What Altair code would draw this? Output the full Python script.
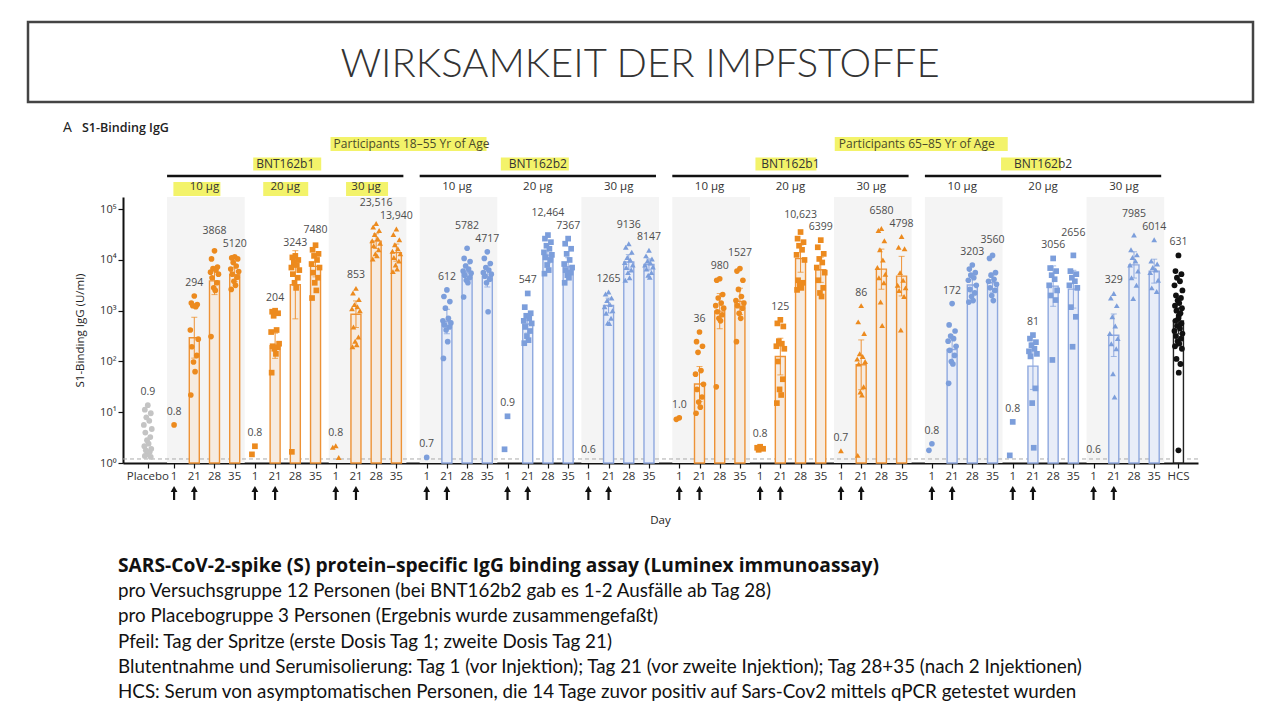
import altair as alt
import numpy as np
import pandas as pd

# ---------------- data ----------------
blocks = ["BNT162b1", "BNT162b2", "BNT162b1", "BNT162b2"]
block_series = ["b1", "b2", "b1", "b2"]
age_groups = ["Participants 18–55 Yr of Age", "Participants 65–85 Yr of Age"]
dose_labels = ["10 μg", "20 μg", "30 μg"]
dose_keys = ["10", "20", "30"]
day_labels = ["1", "21", "28", "35"]

# geometric mean titres (U/ml): per dose, days 1, 21, 28, 35
gmt_young_b1 = [[0.8, 294, 3868, 5120], [0.8, 204, 3243, 7480], [0.8, 853, 23516, 13940]]
gmt_young_b2 = [[0.7, 612, 5782, 4717], [0.9, 547, 12464, 7367], [0.6, 1265, 9136, 8147]]
gmt_old_b1 = [[1.0, 36, 980, 1527], [0.8, 125, 10623, 6399], [0.7, 86, 6580, 4798]]
gmt_old_b2 = [[0.8, 172, 3203, 3560], [0.8, 81, 3056, 2656], [0.6, 329, 7985, 6014]]
gmt_placebo = 0.9
gmt_hcs = 631
lloq = 1.2

# individual values, log10(U/ml): [day1, day21, day28, day35]
young_b1_10 = [[0.75], [3.29, 3.15, 3.12, 3.10, 3.08, 2.62, 2.44, 2.29, 2.12, 1.99, 1.80, 1.34],
               [4.18, 4.02, 3.86, 3.83, 3.80, 3.76, 3.72, 3.65, 3.55, 3.45, 3.40, 2.49],
               [4.06, 4.04, 4.02, 3.95, 3.88, 3.82, 3.77, 3.72, 3.66, 3.58, 3.50, 3.42]]
young_b1_20 = [[0.33, 0.17], [3.0, 2.98, 2.95, 2.9, 2.62, 2.58, 2.35, 2.3, 2.28, 2.25, 2.15, 1.78],
               [4.08, 4.05, 4.0, 3.95, 3.9, 3.85, 3.8, 3.72, 3.65, 3.55, 3.45, 0.22],
               [4.29, 4.2, 4.12, 4.08, 4.0, 3.92, 3.85, 3.75, 3.65, 3.55, 3.40, 3.25]]
young_b1_30 = [[0.34, 0.31, 0.11], [3.44, 3.35, 3.22, 3.12, 3.08, 3.04, 3.0, 2.68, 2.48, 2.40, 2.33, 2.29],
               [4.72, 4.65, 4.58, 4.50, 4.42, 4.38, 4.33, 4.28, 4.2, 4.12, 4.08, 4.02],
               [4.61, 4.5, 4.4, 4.3, 4.22, 4.17, 4.12, 4.05, 3.98, 3.9, 3.82, 3.77]]
young_b2_10 = [[0.11], [3.41, 3.28, 3.18, 3.05, 2.85, 2.80, 2.76, 2.72, 2.68, 2.62, 2.39, 2.06],
               [4.23, 4.03, 3.97, 3.88, 3.82, 3.78, 3.74, 3.70, 3.65, 3.60, 3.55, 3.27],
               [4.16, 4.03, 3.93, 3.85, 3.80, 3.75, 3.72, 3.68, 3.62, 3.55, 2.98]]
young_b2_20 = [[0.92, 0.27], [3.34, 3.07, 2.95, 2.9, 2.85, 2.8, 2.75, 2.68, 2.6, 2.5, 2.42, 2.36],
               [4.49, 4.42, 4.35, 4.28, 4.22, 4.15, 4.1, 4.05, 4.0, 3.9, 3.8, 3.73],
               [4.42, 4.32, 4.22, 4.12, 4.0, 3.92, 3.85, 3.8, 3.75, 3.7, 3.65, 3.55]]
young_b2_30 = [[], [3.37, 3.33, 3.25, 3.2, 3.12, 3.08, 3.0, 2.95, 2.85, 2.76, 2.75],
               [4.32, 4.25, 4.15, 4.05, 4.0, 3.95, 3.9, 3.85, 3.8, 3.75, 3.65, 3.6],
               [4.19, 4.08, 4.02, 3.98, 3.94, 3.9, 3.86, 3.82, 3.75, 3.7, 3.66]]
old_b1_10 = [[0.89, 0.86], [2.58, 2.39, 2.3, 2.18, 1.82, 1.75, 1.55, 1.45, 1.3, 1.2, 1.1, 0.98],
             [3.63, 3.6, 3.32, 3.25, 3.15, 3.1, 3.05, 2.98, 2.92, 2.85, 2.80, 1.5],
             [3.83, 3.78, 3.6, 3.42, 3.28, 3.2, 3.15, 3.1, 3.05, 2.95, 2.85, 2.39]]
old_b1_20 = [[0.32, 0.30, 0.28, 0.26], [2.82, 2.75, 2.69, 2.4, 2.35, 2.3, 2.25, 2.0, 1.65, 1.45, 1.34, 1.18],
             [4.55, 4.42, 4.35, 4.28, 4.2, 4.1, 4.0, 3.6, 3.55, 3.5, 3.45, 3.41],
             [4.39, 4.25, 4.12, 4.02, 3.95, 3.85, 3.75, 3.6, 3.45, 3.35, 3.28]]
old_b1_30 = [[0.24], [3.1, 2.78, 2.55, 2.15, 2.1, 2.05, 2.0, 1.95, 1.5, 1.4, 1.34, 0.15],
             [4.62, 4.58, 4.38, 4.2, 4.0, 3.85, 3.72, 3.65, 3.55, 3.17, 2.71],
             [4.46, 4.25, 4.22, 3.75, 3.6, 3.5, 3.45, 3.4, 3.28, 2.62]]
old_b2_10 = [[0.38, 0.25], [3.14, 2.72, 2.6, 2.5, 2.45, 2.4, 2.3, 2.22, 2.12, 2.0, 1.95, 1.57],
             [3.9, 3.82, 3.75, 3.7, 3.65, 3.6, 3.5, 3.42, 3.35, 3.28, 3.2, 3.17],
             [4.09, 4.03, 3.75, 3.7, 3.62, 3.58, 3.52, 3.45, 3.4, 3.3, 3.2]]
old_b2_20 = [[0.81, 0.15], [2.52, 2.45, 2.38, 2.32, 2.25, 2.2, 2.15, 2.1, 1.47, 1.18, 0.3],
             [4.03, 3.84, 3.78, 3.7, 3.62, 3.5, 3.4, 3.3, 3.21, 2.03],
             [4.09, 3.78, 3.72, 3.65, 3.58, 3.5, 3.45, 3.07, 2.88, 2.29]]
old_b2_30 = [[], [3.34, 3.25, 3.1, 2.88, 2.7, 2.55, 2.45, 2.35, 2.25, 1.76, 1.3],
             [4.49, 4.2, 4.1, 4.05, 3.98, 3.9, 3.78, 3.65, 3.5, 3.24],
             [4.4, 3.98, 3.92, 3.85, 3.8, 3.75, 3.6, 3.45, 3.38]]
placebo_log = [1.14, 1.05, 0.98, 0.9, 0.83, 0.75, 0.67, 0.6, 0.51, 0.45, 0.38, 0.33,
               0.28, 0.25, 0.22, 0.2, 0.17, 0.14, 0.12]
hcs_log = [4.09, 3.78, 3.72, 3.65, 3.58, 3.5, 3.4, 3.3, 3.25, 3.2, 3.15, 3.1, 3.05, 3.0,
           2.95, 2.9, 2.85, 2.8, 2.75, 2.7, 2.65, 2.6, 2.55, 2.5, 2.45, 2.4, 2.35, 2.3,
           2.25, 2.05, 1.95, 1.78, 0.25]

text_lines = [
    "SARS-CoV-2-spike (S) protein–specific IgG binding assay (Luminex immunoassay)",
    "pro Versuchsgruppe 12 Personen (bei BNT162b2 gab es 1-2 Ausfälle ab Tag 28)",
    "pro Placebogruppe 3 Personen (Ergebnis wurde zusammengefaßt)",
    "Pfeil: Tag der Spritze (erste Dosis Tag 1; zweite Dosis Tag 21)",
    "Blutentnahme und Serumisolierung: Tag 1 (vor Injektion); Tag 21 (vor zweite Injektion); Tag 28+35 (nach 2 Injektionen)",
    "HCS: Serum von asymptomatischen Personen, die 14 Tage zuvor positiv auf Sars-Cov2 mittels qPCR getestet wurden",
]
slide_title = "WIRKSAMKEIT DER IMPFSTOFFE"

gmt_blocks = [gmt_young_b1, gmt_young_b2, gmt_old_b1, gmt_old_b2]
pts_blocks = [[young_b1_10, young_b1_20, young_b1_30], [young_b2_10, young_b2_20, young_b2_30],
              [old_b1_10, old_b1_20, old_b1_30], [old_b2_10, old_b2_20, old_b2_30]]

# ---------------- layout ----------------
W, H = 1075, 266
XDOM = [-0.98, 51.72]
YTOP = 5.24
PXU = W / (XDOM[1] - XDOM[0])
DEC = H / YTOP
FONT = "Open Sans"
TFONT = "Lato"
LAB_FS = 10.5


def slot(v, d, k):
    return 1.3 + 12.5 * v + 4 * d + k


X_PLACEBO = 0.0
X_HCS = 51.0
JIT = [0, -3, 3, -1.5, 1.5, -4, 4, -2.5, 2.5, -0.8, 0.8, -3.5, 3.5, -2, 2, 0.3]
T95 = {2: 12.71, 3: 4.30, 4: 3.18, 5: 2.78, 6: 2.57, 7: 2.45, 8: 2.36, 9: 2.31,
       10: 2.26, 11: 2.23, 12: 2.20}


def fmt(v):
    if v < 10:
        return f"{v:.1f}"
    if v >= 10000:
        return f"{v:,.0f}"
    return f"{v:.0f}"


pt_rows, bar_rows, err_rows, lab_rows = [], [], [], []
lab_index = {}


def add_group(x, series, dose, logs, gmt, with_bar, key=None):
    for i, L in enumerate(logs):
        pt_rows.append(dict(x=x + JIT[i % len(JIT)] / PXU, val=10 ** L, series=series, dose=dose))
    if with_bar:
        bar_rows.append(dict(x=x, gmt=gmt, base=1.0, series=series))
        n = len(logs)
        if n >= 2:
            sd = float(np.std(logs, ddof=1))
            half = T95.get(n, 2.04) * sd / np.sqrt(n)
            c = np.log10(gmt)
            err_rows.append(dict(x=x, lo=max(10 ** (c - half), 1.0), hi=10 ** (c + half), series=series))
    top = max(logs) if logs else 0.0
    lab_rows.append(dict(x=x, ly=top * DEC, text=fmt(gmt)))
    if key is not None:
        lab_index[key] = len(lab_rows) - 1


add_group(X_PLACEBO, "placebo", "placebo", placebo_log, gmt_placebo, False)
for v in range(4):
    for d in range(3):
        for k in range(4):
            add_group(slot(v, d, k), block_series[v], dose_keys[d], pts_blocks[v][d][k],
                      gmt_blocks[v][d][k], k > 0, key=(v, d, k))
add_group(X_HCS, "hcs", "hcs", hcs_log, gmt_hcs, True)

# stagger neighbouring GMT labels that would collide
CHW, SEP = 6.0, 12.5
for _ in range(2):
    for v in range(4):
        for d in range(3):
            for k in (1, 2):
                a, b = lab_rows[lab_index[(v, d, k)]], lab_rows[lab_index[(v, d, k + 1)]]
                wa, wb = CHW * len(a["text"]), CHW * len(b["text"])
                if (wa + wb) / 2 > PXU and abs(a["ly"] - b["ly"]) < SEP:
                    if a["ly"] >= b["ly"]:
                        a["ly"] = b["ly"] + SEP
                    else:
                        b["ly"] = a["ly"] + SEP
for r in lab_rows:
    r["anchor"] = 10 ** (r["ly"] / DEC)

tick_rows = [dict(x=X_PLACEBO, text="Placebo")]
for v in range(4):
    for d in range(3):
        for k in range(4):
            tick_rows.append(dict(x=slot(v, d, k), text=day_labels[k]))
tick_rows.append(dict(x=X_HCS, text="HCS"))
arrow_rows = [dict(x=slot(v, d, k)) for v in range(4) for d in range(3) for k in (0, 1)]
band_rows = [dict(x=slot(v, d, 0), x2=slot(v, d, 3)) for v in range(4) for d in (0, 2)]
line_rows = [dict(x=slot(v, 0, 0), x2=slot(v, 2, 3)) for v in range(4)]
dose_rows = [dict(x=(slot(v, d, 0) + slot(v, d, 3)) / 2, text=dose_labels[d]) for v in range(4) for d in range(3)]
block_c = [(slot(v, 0, 0) + slot(v, 2, 3)) / 2 for v in range(4)]
block_rows = [dict(x=block_c[v], text=blocks[v]) for v in range(4)]
age_rows = [dict(x=(block_c[0] + block_c[1]) / 2, text=age_groups[0]),
            dict(x=(block_c[2] + block_c[3]) / 2, text=age_groups[1])]

pts = pd.DataFrame(pt_rows)
bars = pd.DataFrame(bar_rows)
errs = pd.DataFrame(err_rows)
labs = pd.DataFrame(lab_rows)[["x", "anchor", "text"]]
one = pd.DataFrame({"a": [0]})

# ---------------- scales / axes ----------------
xs = alt.Scale(domain=XDOM, nice=False, zero=False)
ys = alt.Scale(type="log", domain=[1, 10 ** YTOP], nice=False)
ax_x = alt.Axis(values=[r["x"] for r in tick_rows], labels=False, tickSize=5, tickWidth=1.2,
                tickColor="#111", domainColor="#111", domainWidth=2, grid=False, title=None)
ax_y = alt.Axis(values=[1, 10, 100, 1000, 10000, 100000],
                labelExpr="'10' + ['⁰','¹','²','³','⁴','⁵'][round(log(datum.value)/LN10)]",
                tickSize=5, tickWidth=1.2, tickColor="#111", domainColor="#111", domainWidth=2,
                grid=False, labelFont=FONT, labelFontSize=11, labelColor="#333", labelPadding=2,
                title="S1-Binding IgG (U/ml)", titleFont=FONT, titleFontSize=11.5,
                titleFontWeight="normal", titleColor="#222", titlePadding=14)


def X(f):
    return alt.X(f"{f}:Q", scale=xs, axis=ax_x)


def Y(f):
    return alt.Y(f"{f}:Q", scale=ys, axis=ax_y)


sdom = ["b1", "b2", "placebo", "hcs"]
pt_scale = alt.Scale(domain=sdom, range=["#EC8A1E", "#7C9EDB", "#C4C4C4", "#111111"])
stroke_scale = alt.Scale(domain=sdom, range=["#EE9235", "#8EA8DF", "#C4C4C4", "#222222"])
fill_scale = alt.Scale(domain=sdom, range=["#F6EBE0", "#E8EDF8", "#EEEEEE", "#FFFFFF"])
ddom = ["10", "20", "30", "placebo", "hcs"]
shape_scale = alt.Scale(domain=ddom, range=["circle", "square", "triangle-up", "circle", "circle"])
size_scale = alt.Scale(domain=ddom, range=[32, 34, 32, 28, 20])

layers = []

# shaded dose bands
layers.append(alt.Chart(pd.DataFrame(band_rows)).mark_rect(color="#f4f4f4", xOffset=-7, x2Offset=10)
              .encode(x=X("x"), x2="x2", y=alt.value(0), y2=alt.value(H)))

# yellow highlights
HL = "#F3F36A"
hl_specs = [
    (age_rows[0]["x"], -53, -81, 75, 14), (age_rows[1]["x"], -53, -82, 91, 14),
    (block_c[0], -33, -32, 36, 13), (block_c[1], -33, -37, 31, 13),
    (block_c[2], -33, -35, 26, 13), (block_c[3], -33, -42, 18, 13),
    (dose_rows[0]["x"], -8, -31, 16, 14), (dose_rows[1]["x"], -8, -22, 23, 14),
    (dose_rows[2]["x"], -8, -20, 22, 14),
]
for xc, yc, lo, hi, sw in hl_specs:
    layers.append(alt.Chart(pd.DataFrame({"x": [xc]})).mark_rule(color=HL, strokeWidth=sw, xOffset=lo, x2Offset=hi)
                  .encode(x=X("x"), x2="x", y=alt.value(yc)))

# header lines & texts
layers.append(alt.Chart(pd.DataFrame(line_rows)).mark_rule(color="#111", strokeWidth=2.5, xOffset=-7, x2Offset=7)
              .encode(x=X("x"), x2="x2", y=alt.value(-21)))
layers.append(alt.Chart(pd.DataFrame(dose_rows)).mark_text(font=FONT, fontSize=11.5, color="#333", baseline="middle")
              .encode(x=X("x"), y=alt.value(-10), text="text:N"))
layers.append(alt.Chart(pd.DataFrame(block_rows)).mark_text(font=FONT, fontSize=12, color="#333", baseline="middle")
              .encode(x=X("x"), y=alt.value(-33), text="text:N"))
layers.append(alt.Chart(pd.DataFrame(age_rows)).mark_text(font=FONT, fontSize=12, color="#4a4a2a", baseline="middle")
              .encode(x=X("x"), y=alt.value(-53), text="text:N"))

# LLOQ
layers.append(alt.Chart(pd.DataFrame({"v": [lloq]})).mark_rule(color="#aaaaaa", strokeDash=[4, 3], strokeWidth=1)
              .encode(x=alt.value(0), x2=alt.value(W), y=Y("v")))

# bars
layers.append(alt.Chart(bars).mark_bar(size=10, strokeWidth=1.4)
              .encode(x=X("x"), y=Y("gmt"), y2="base",
                      fill=alt.Fill("series:N", scale=fill_scale, legend=None),
                      stroke=alt.Stroke("series:N", scale=stroke_scale, legend=None)))
# error bars
layers.append(alt.Chart(errs).mark_rule(strokeWidth=1)
              .encode(x=X("x"), y=Y("lo"), y2="hi", stroke=alt.Stroke("series:N", scale=stroke_scale, legend=None)))
for f in ("lo", "hi"):
    layers.append(alt.Chart(errs).mark_tick(orient="horizontal", size=6, thickness=1)
                  .encode(x=X("x"), y=Y(f), color=alt.Color("series:N", scale=pt_scale, legend=None)))
# points
layers.append(alt.Chart(pts).mark_point(filled=True, opacity=1, strokeWidth=0)
              .encode(x=X("x"), y=Y("val"),
                      color=alt.Color("series:N", scale=pt_scale, legend=None),
                      shape=alt.Shape("dose:N", scale=shape_scale, legend=None),
                      size=alt.Size("dose:N", scale=size_scale, legend=None)))
# GMT labels
layers.append(alt.Chart(labs).mark_text(font=FONT, fontSize=LAB_FS, color="#4d4d4d", baseline="bottom", dy=-8)
              .encode(x=X("x"), y=Y("anchor"), text="text:N"))
# tick labels
layers.append(alt.Chart(pd.DataFrame(tick_rows)).mark_text(font=FONT, fontSize=11.5, color="#333", baseline="middle")
              .encode(x=X("x"), y=alt.value(280), text="text:N"))
# arrows
layers.append(alt.Chart(pd.DataFrame(arrow_rows)).mark_rule(color="#111", strokeWidth=2.2)
              .encode(x=X("x"), y=alt.value(294), y2=alt.value(303)))
layers.append(alt.Chart(pd.DataFrame(arrow_rows)).mark_point(shape="triangle-up", filled=True, size=46, color="#111", opacity=1)
              .encode(x=X("x"), y=alt.value(292)))
# axis title Day, panel label
layers.append(alt.Chart(one).mark_text(font=FONT, fontSize=11.5, color="#222", baseline="middle")
              .encode(x=alt.value(W / 2), y=alt.value(324), text=alt.value("Day")))
layers.append(alt.Chart(one).mark_text(font=FONT, fontSize=14, color="#222", align="left", baseline="middle")
              .encode(x=alt.value(-60), y=alt.value(-69), text=alt.value("A")))
layers.append(alt.Chart(one).mark_text(font=FONT, fontSize=12.5, color="#222", align="left", baseline="middle",
                                       fontWeight=600)
              .encode(x=alt.value(-41), y=alt.value(-69), text=alt.value("S1-Binding IgG")))

# slide title box and text
layers.append(alt.Chart(one).mark_rect(fillOpacity=0, stroke="#444", strokeWidth=2.5)
              .encode(x=alt.value(-95), x2=alt.value(1130), y=alt.value(-175), y2=alt.value(-95)))
layers.append(alt.Chart(one).mark_text(font=TFONT, fontWeight=300, fontSize=40, color="#333", align="center",
                                       baseline="middle")
              .encode(x=alt.value(517), y=alt.value(-132), text=alt.value(slide_title)))
for i, line in enumerate(text_lines):
    if i == 0:
        mk = alt.Chart(one).mark_text(font="Open Sans", fontSize=19.2, fontWeight="bold", color="#111",
                                      align="left", baseline="middle")
    else:
        mk = alt.Chart(one).mark_text(font=TFONT, fontSize=18.8, color="#111", align="left", baseline="middle")
    layers.append(mk.encode(x=alt.value(-5), y=alt.value(369 + 25.2 * i), text=alt.value(line)))

chart = alt.layer(*layers).properties(
    width=W, height=H,
    autosize=alt.AutoSizeParams(type="none"),
    padding={"left": 115, "top": 189, "right": 74, "bottom": 249},
).configure_view(stroke=None)

chart.save("out.html", embed_options={"renderer": "svg", "actions": False})
